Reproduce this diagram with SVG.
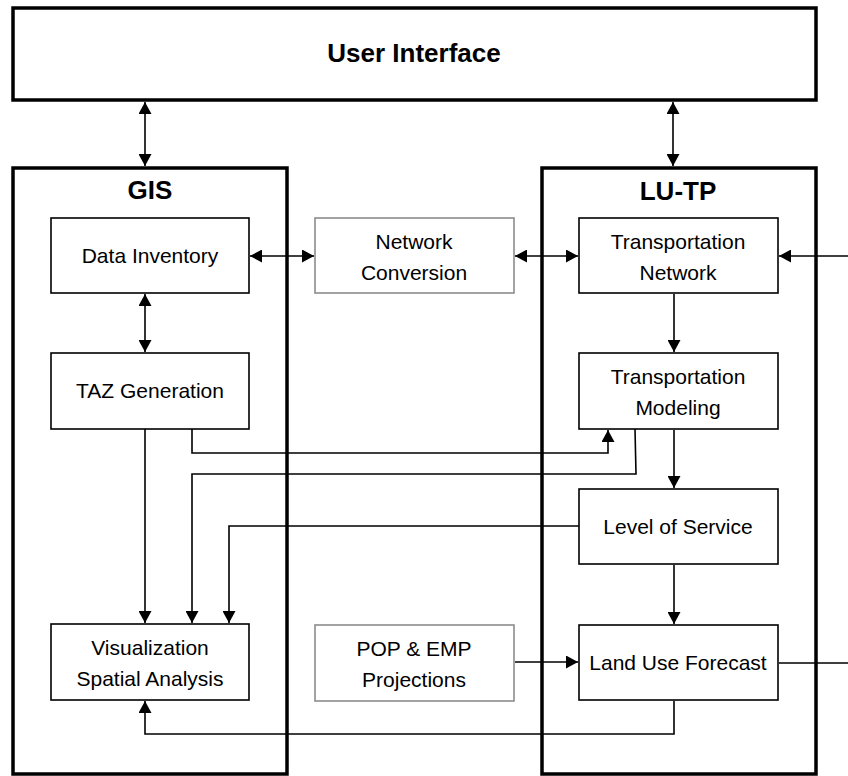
<svg xmlns="http://www.w3.org/2000/svg" width="848" height="776" viewBox="0 0 848 776">
<defs>
<marker id="ah" markerUnits="userSpaceOnUse" markerWidth="13" markerHeight="13" refX="12" refY="6.5" orient="auto-start-reverse">
<path d="M0,0 L12,6.5 L0,13 z" fill="#000"/>
</marker>
<style>
.outer{fill:#fff;stroke:#000;stroke-width:3.5}
.box{fill:#fff;stroke:#000;stroke-width:1.6}
.gbox{fill:#fff;stroke:#8c8c8c;stroke-width:1.6}
.title{font-family:"Liberation Sans",Arial,sans-serif;font-weight:bold;font-size:26px;text-anchor:middle;fill:#000}
.lbl{font-family:"Liberation Sans",Arial,sans-serif;font-size:21px;text-anchor:middle;fill:#000}
.c{fill:none;stroke:#000;stroke-width:1.6}
.ca{fill:none;stroke:#000;stroke-width:1.6;marker-end:url(#ah)}
.cb{fill:none;stroke:#000;stroke-width:1.6;marker-end:url(#ah);marker-start:url(#ah)}
</style>
</defs>
<rect width="848" height="776" fill="#fff"/>
<g id="ui"><rect class="outer" x="13" y="8" width="803" height="92"/><text class="title" x="414" y="62">User Interface</text></g>
<g id="gis"><rect class="outer" x="13" y="168" width="274" height="606"/><text class="title" x="150" y="199">GIS</text></g>
<g id="lutp"><rect class="outer" x="542" y="168" width="274" height="606"/><text class="title" x="678" y="200">LU-TP</text></g>
<g id="connectors">
<path class="cb" d="M145,102 V166"/>
<path class="cb" d="M673,102 V166"/>
<path class="cb" d="M250,256 H314"/>
<path class="cb" d="M515,256 H578"/>
<path class="cb" d="M145,294 V352"/>
<path class="ca" d="M145,429 V623"/>
<path class="ca" d="M192,429 V453 H608 V430"/>
<path class="ca" d="M635,429 L636,474 H192 V623"/>
<path class="ca" d="M579,526 H229 V623"/>
<path class="ca" d="M674,294 V352"/>
<path class="ca" d="M674,430 V488"/>
<path class="ca" d="M674,565 V624"/>
<path class="ca" d="M515,662 H578"/>
<path class="ca" d="M674,701 V734 H145 V701"/>
<path class="ca" d="M779,663 H870 V256 H779"/>
</g>
<g id="data-inventory"><rect class="box" x="51" y="218" width="198" height="75"/><text class="lbl" x="150" y="263">Data Inventory</text></g>
<g id="taz-generation"><rect class="box" x="51" y="353" width="198" height="76"/><text class="lbl" x="150" y="398">TAZ Generation</text></g>
<g id="visualization"><rect class="box" x="51" y="624" width="198" height="76"/><text class="lbl" x="150" y="655">Visualization</text><text class="lbl" x="150" y="686">Spatial Analysis</text></g>
<g id="network-conversion"><rect class="gbox" x="315" y="218" width="199" height="75"/><text class="lbl" x="414" y="249">Network</text><text class="lbl" x="414" y="280">Conversion</text></g>
<g id="pop-emp"><rect class="gbox" x="315" y="625" width="199" height="76"/><text class="lbl" x="414" y="656">POP &amp; EMP</text><text class="lbl" x="414" y="687">Projections</text></g>
<g id="transportation-network"><rect class="box" x="579" y="218" width="199" height="75"/><text class="lbl" x="678" y="249">Transportation</text><text class="lbl" x="678" y="280">Network</text></g>
<g id="transportation-modeling"><rect class="box" x="579" y="353" width="199" height="76"/><text class="lbl" x="678" y="384">Transportation</text><text class="lbl" x="678" y="415">Modeling</text></g>
<g id="level-of-service"><rect class="box" x="579" y="489" width="199" height="75"/><text class="lbl" x="678" y="534">Level of Service</text></g>
<g id="land-use-forecast"><rect class="box" x="579" y="625" width="199" height="75"/><text class="lbl" x="678" y="670">Land Use Forecast</text></g>
</svg>
